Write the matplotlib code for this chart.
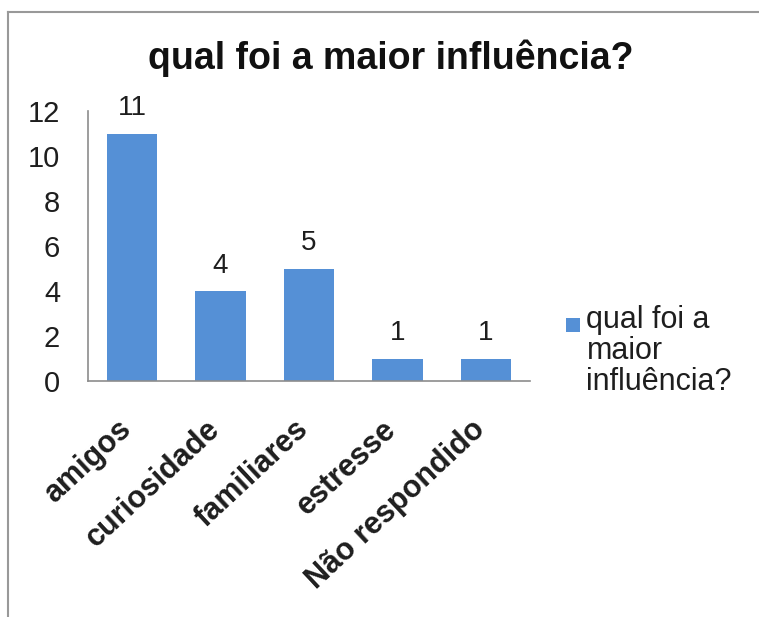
import matplotlib.pyplot as plt
import matplotlib.transforms as mtransforms
from matplotlib.lines import Line2D
from matplotlib.patches import Rectangle
from matplotlib.container import BarContainer
from matplotlib.legend_handler import HandlerPatch, update_from_first_child

plt.rcParams['font.family'] = ['Liberation Sans', 'DejaVu Sans']

categories = ['amigos', 'curiosidade', 'familiares', 'estresse', 'Não respondido']
values = [11, 4, 5, 1, 1]
series_name = 'qual foi a\nmaior\ninfluência?'
title = 'qual foi a maior influência?'
yticks = [0, 2, 4, 6, 8, 10, 12]

bar_color = '#5590D6'
axis_color = '#8c8c8c'
text_color = '#1e1e1e'

fig = plt.figure(figsize=(7.59, 6.17), dpi=100)
ax = fig.add_axes([88 / 759, 1 - 381 / 617, 442 / 759, 270 / 617])

x = range(len(categories))
bars = ax.bar(x, values, width=0.57, color=bar_color, label=series_name)
for b, v in zip(bars, values):
    ax.text(b.get_x() + b.get_width() / 2, v + 0.55, str(v),
            ha='center', va='bottom', fontsize=20, color=text_color)

ax.set_xlim(-0.5, len(categories) - 0.5)
ax.set_ylim(0, 12)
ax.set_yticks(yticks)
ax.set_yticklabels([str(t) for t in yticks], fontsize=21, color=text_color)
ax.set_xticks(list(x))
ax.set_xticklabels(categories, rotation=43, ha='right', va='center',
                   rotation_mode='anchor', fontsize=22, fontweight='bold',
                   color=text_color)
ax.tick_params(axis='y', length=0, pad=20)
ax.tick_params(axis='x', length=0, pad=32)
shift = mtransforms.ScaledTranslation(-5 / 100, 0, fig.dpi_scale_trans)
for lbl in ax.get_xticklabels():
    lbl.set_transform(lbl.get_transform() + shift)

for s in ['top', 'right']:
    ax.spines[s].set_visible(False)
for s in ['left', 'bottom']:
    ax.spines[s].set_color(axis_color)
    ax.spines[s].set_linewidth(1.2)

fig.text(391 / 759, 1 - 58 / 617, title, ha='center', va='center',
         fontsize=27, fontweight='bold', color='#111111')


# legend square sits beside the first line of the wrapped label
def top_square(legend, orig_handle, xdescent, ydescent, width, height, fontsize):
    size = 14 * 72 / 100
    return Rectangle((-xdescent, -ydescent + height - size + 2), size, size)


leg = fig.legend(loc='upper left', bbox_to_anchor=(566 / 759, 1 - 305 / 617),
                 frameon=False, fontsize=22, handlelength=0.45, handleheight=2.9,
                 handletextpad=0.22, borderpad=0, borderaxespad=0,
                 handler_map={BarContainer: HandlerPatch(patch_func=top_square,
                                                         update_func=update_from_first_child)})
for t in leg.get_texts():
    t.set_linespacing(1.05)
    t.set_color(text_color)

# outer chart border
fig.add_artist(Line2D([8 / 759, 1], [1 - 12 / 617, 1 - 12 / 617],
                      transform=fig.transFigure, color='#999999', linewidth=1.5))
fig.add_artist(Line2D([8 / 759, 8 / 759], [0, 1 - 12 / 617],
                      transform=fig.transFigure, color='#999999', linewidth=1.5))

fig.savefig('out.png', dpi=100)
